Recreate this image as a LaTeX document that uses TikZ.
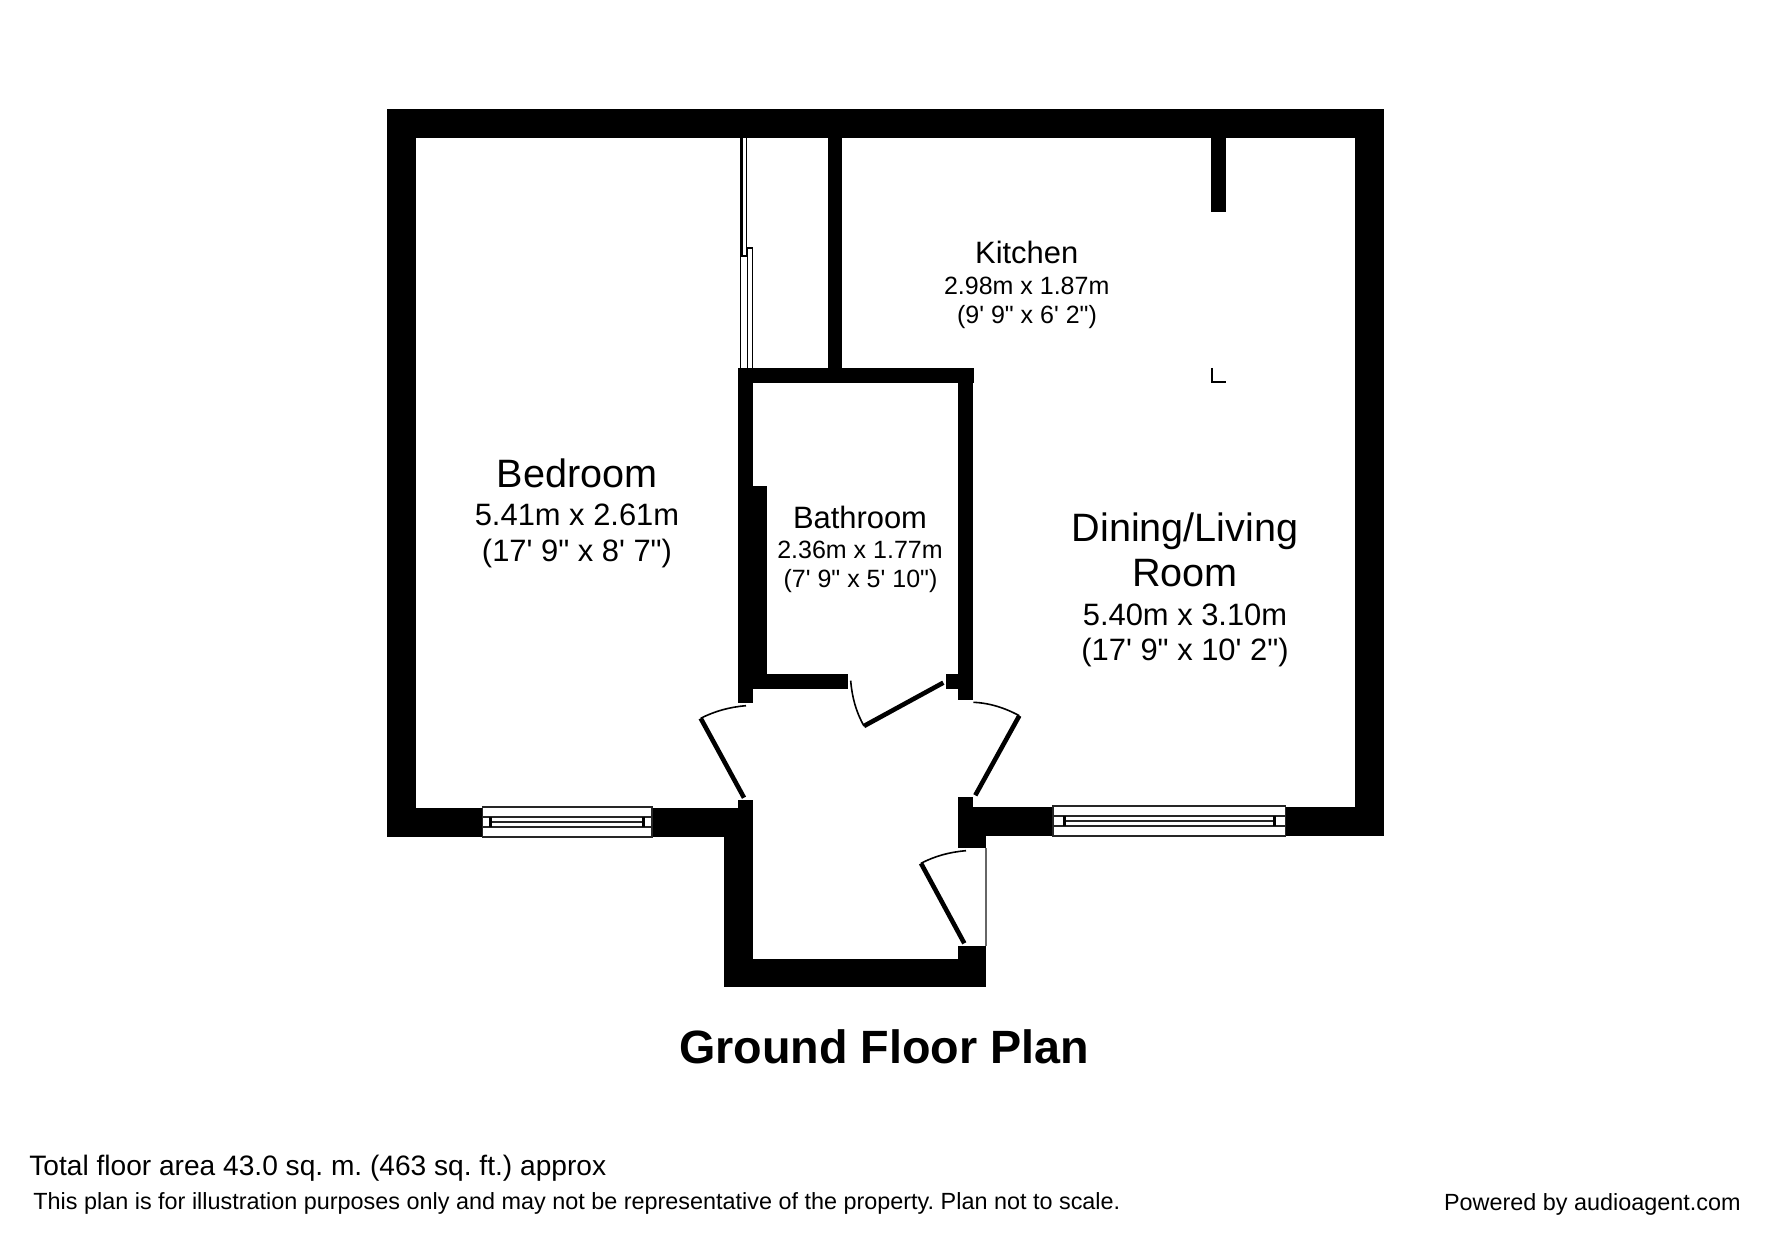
\documentclass[tikz,border=0pt]{standalone}
\usepackage{fontspec}
\usepackage{tikz}
\newfontfamily\planfont{Liberation Sans}
\tikzset{
  wall/.style={fill=black},
  leaf/.style={line width=2.3pt},
  swing/.style={line width=0.8pt},
  pane/.style={draw=black!85,fill=white,line width=0.8pt},
  slider/.style={draw=black,fill=white,line width=0.7pt},
  label/.style={anchor=base,inner sep=0pt,text=black,execute at begin node=\frenchspacing},
  bigname/.style={label,font=\planfont\fontsize{19.8}{22}\selectfont},
  midname/.style={label,font=\planfont\fontsize{15.45}{18}\selectfont},
  smallsize/.style={label,font=\planfont\fontsize{12.5}{15}\selectfont},
  footnote/.style={label,anchor=base west,font=\planfont\fontsize{11.7}{14}\selectfont}
}

\begin{document}
\begin{tikzpicture}[x=0.5pt,y=-0.5pt]
      \useasboundingbox (0,0) rectangle (1771,1240);
      \fill[white] (0,0) rectangle (1771,1240);
      \fill[wall] (387,109.5) rectangle (1384,137.7);
      \fill[wall] (387,109.5) rectangle (415.7,837);
      \fill[wall] (1355.4,109.5) rectangle (1384,836);
      \fill[wall] (387,808.3) rectangle (724.3,837);
      \fill[wall] (724.3,808.3) rectangle (752.7,987);
      \fill[wall] (738.3,800.3) rectangle (752.7,808.3);
      \fill[wall] (724.3,958.7) rectangle (986,987);
      \fill[wall] (958.3,945.7) rectangle (986,987);
      \fill[wall] (958.3,797) rectangle (972.7,848.3);
      \fill[wall] (958.3,807.3) rectangle (986,848.3);
      \fill[wall] (972.7,807.3) rectangle (1355.4,835.7);
      \fill[wall] (828.3,137.7) rectangle (842.3,368.3);
      \fill[wall] (738.3,368.3) rectangle (974,383);
      \fill[wall] (738.3,368.3) rectangle (752.7,702.7);
      \fill[wall] (752.7,485.7) rectangle (767.3,674);
      \fill[wall] (752.7,674) rectangle (848.3,689);
      \fill[wall] (946,674) rectangle (958.3,689);
      \fill[wall] (958.3,368.3) rectangle (972.7,700);
      \fill[wall] (1210.7,137.7) rectangle (1225.7,211.7);
      \draw[black,line width=1pt] (1212,368) -- (1212,382) -- (1225.7,382);
      \draw[black!60,line width=0.6pt] (986,848.3) -- (986,945.7);
      % sliding doors
      \draw[slider] (740.6,256.7) rectangle (747.3,368.3);
      \draw[slider] (747.7,247.9) rectangle (752.7,368.3);
      \fill[wall] (740.3,137.7) rectangle (743.4,256.7);
      \fill[wall] (745.8,137.7) rectangle (747.3,256.7);
      \fill[wall] (740.3,254.7) rectangle (747.7,256.7);
      % windows
      \foreach \xa/\xb/\xc/\xd/\ya/\yb/\yc/\yd in {
        482.3/490/643.3/651.7/807/817/827/837,
        1053/1064/1274.3/1285.5/806/816/826/836} {
        \draw[pane] (\xa,\ya) rectangle (\xd,\yd);
        \draw[pane] (\xa,\yb) rectangle (\xd,\yc);
        \draw[pane] (\xb,\yb) rectangle (\xc,\yc);
        \draw[pane] (\xb,{(\yb+\yc)/2}) -- (\xc,{(\yb+\yc)/2});
        \fill[wall] (\xb-1.5,\yb) rectangle (\xb+1.5,\yc);
        \fill[wall] (\xc-1.5,\yb) rectangle (\xc+1.5,\yc);
      }
      % doors
      \draw[leaf] (700.7,718.3) -- (744,797.7);
      \draw[swing] (700.7,718.3) .. controls (715,711) and (730,707) .. (746,705.7);
      \draw[leaf] (864,726) -- (943.3,682.7);
      \draw[swing] (850.7,680.7) .. controls (852,697) and (856,712) .. (864,726);
      \draw[leaf] (1019.3,715.7) -- (975.3,795.3);
      \draw[swing] (973.3,702.3) .. controls (990,703) and (1005,708) .. (1019.3,715.7);
      \draw[leaf] (921,863.3) -- (964.3,943.3);
      \draw[swing] (921,863.3) .. controls (935,856) and (950,852) .. (966,850.7);
      % labels
      \node[midname] (kitchen) at (1026.7,264) {Kitchen};
      \node[smallsize] (kitchenm) at (1026.7,295) {2.98m x 1.87m};
      \node[smallsize] (kitchenft) at (1027,323.5) {(9' 9" x 6' 2")};
      \node[bigname] (bedroom) at (577,487.5) {Bedroom};
      \node[midname] (bedroomm) at (577,525) {5.41m x 2.61m};
      \node[midname] (bedroomft) at (577,561) {(17' 9" x 8' 7")};
      \node[midname] (bathroom) at (860,529) {Bathroom};
      \node[smallsize] (bathroomm) at (860,559) {2.36m x 1.77m};
      \node[smallsize] (bathroomft) at (860.5,587.8) {(7' 9" x 5' 10")};
      \node[bigname] (living) at (1185,541) {Dining/Living};
      \node[bigname] (livingb) at (1185,586.7) {Room};
      \node[midname] (livingm) at (1185,625) {5.40m x 3.10m};
      \node[midname] (livingft) at (1185,660.7) {(17' 9" x 10' 2")};
      \node[label,font=\planfont\fontsize{23.35}{26}\bfseries\selectfont] (title) at (884,1063) {Ground Floor Plan};
      \node[footnote,font=\planfont\fontsize{14.06}{16}\selectfont] (area) at (29,1175) {Total floor area 43.0 sq. m. (463 sq. ft.) approx};
      \node[footnote] (note) at (33,1209) {This plan is for illustration purposes only and may not be representative of the property. Plan not to scale.};
      \node[footnote,anchor=base east] (powered) at (1741,1210.5) {Powered by audioagent.com};
\end{tikzpicture}
\end{document}
